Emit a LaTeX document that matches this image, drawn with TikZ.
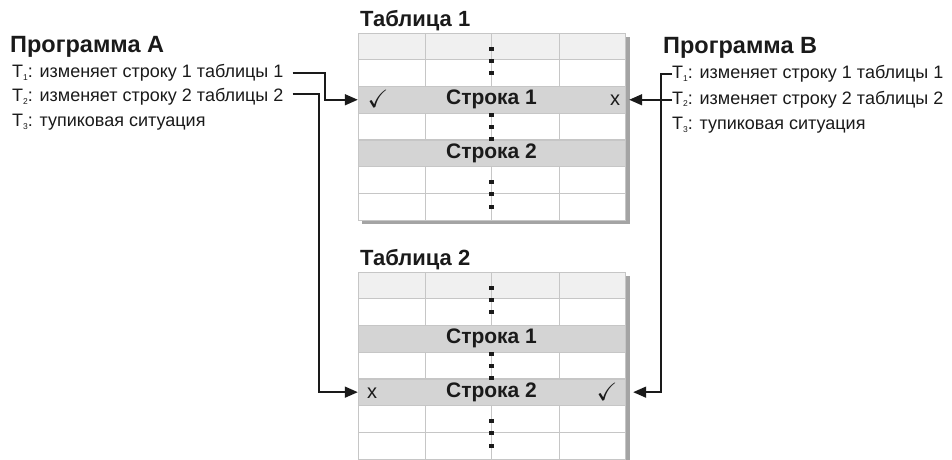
\documentclass[tikz,border=0pt]{standalone}
\usepackage{fontspec}
\setmainfont{Liberation Sans}
\usepackage{amssymb}
\usetikzlibrary{positioning,arrows.meta,calc}
\definecolor{gridgray}{HTML}{C6C6C6}
\definecolor{rowgray}{HTML}{D4D4D4}
\definecolor{headgray}{HTML}{F0F0F0}
\definecolor{shadowgray}{HTML}{A4A4A4}
\definecolor{ink}{HTML}{1A1A1A}
\newcommand{\tsub}[1]{\raisebox{-2.5pt}{\fontsize{8.5}{9}\selectfont #1}}

\begin{document}
\begin{tikzpicture}[x=1pt,y=-1pt,>={Triangle[length=13pt,width=11pt]},
        title/.style = {anchor=base west, inner sep=0pt, text=ink, font=\fontsize{23.5}{26}\bfseries},
        tabtitle/.style = {anchor=base west, inner sep=0pt, text=ink, font=\fontsize{22}{24}\bfseries},
        task/.style = {anchor=west, inner sep=0pt, text=ink, text height=13pt, text depth=4pt,
                font=\fontsize{18}{20}\selectfont},
        strip/.style = {draw=gridgray, fill=rowgray, minimum width=267pt, minimum height=26.7pt,
                inner sep=0pt, text=ink, font=\fontsize{21}{22}\bfseries},
        tick/.style = {inner sep=0pt, text=ink, font=\fontsize{20}{22}\selectfont},
        gridline/.style = {draw=gridgray, line width=0.8pt},
        link/.style = {draw=ink, line width=1.6pt, ->},
    ]
    \useasboundingbox (0,0) rectangle (952,459);

    \foreach \tab/\ty in {1/33,2/272}{
        \fill[shadowgray] (362,\ty+4) rectangle (629.5,\ty+191);
        \fill[white] (358,\ty) rectangle (625,\ty+187);
        \fill[headgray] (358,\ty) rectangle (625,\ty+26.7);
        \foreach \cx in {425,491.5,559}
            \draw[gridline] (\cx,\ty) -- (\cx,\ty+187);
        \foreach \k in {1,...,6}
            \draw[gridline] (358,\ty+\k*26.7) -- (625,\ty+\k*26.7);
        \draw[gridline] (358,\ty) rectangle (625,\ty+187);
        \node[strip] (t\tab s1) at (491.5,\ty+66.75) {Строка 1};
        \node[strip] (t\tab s2) at (491.5,\ty+120.15) {Строка 2};
        \foreach \d in {16,28,40,82,94,106,149,161,174}
            \fill[ink] (489.2,\ty+\d-2.3) rectangle ++(4.6,4.6);
        \node[tabtitle] (tab\tab) at (360,\ty-7) {Таблица \tab};
    }

    \node[tick, font=\fontsize{25}{26}\selectfont] (chk1) at (378,99) {$\checkmark$};
    \node[tick] (x1) at (615,100) {x};
    \node[tick] (x2) at (372,393) {x};
    \node[tick, font=\fontsize{25}{26}\selectfont] (chk2) at (607,391.5) {$\checkmark$};

    \node[title] (progA) at (10,52) {Программа A};
    \node[task] (a1) at (12,73) {T\tsub{1}: изменяет строку 1 таблицы 1};
    \node[task] (a2) at (12,97) {T\tsub{2}: изменяет строку 2 таблицы 2};
    \node[task] (a3) at (12,122) {T\tsub{3}: тупиковая ситуация};

    \node[title] (progB) at (663,53) {Программа B};
    \node[task] (b1) at (672,74) {T\tsub{1}: изменяет строку 1 таблицы 1};
    \node[task] (b2) at (672,99.75) {T\tsub{2}: изменяет строку 2 таблицы 2};
    \node[task] (b3) at (672,125) {T\tsub{3}: тупиковая ситуация};

    \coordinate (kA1) at (325,0);
    \coordinate (kA2) at (319,0);
    \coordinate (kB) at (661,0);

    \draw[link, shorten <=9pt] (a1.east) -- (a1.east -| kA1) |- (t1s1.west);
    \draw[link, shorten <=9pt] ([yshift=3pt]a2.east) -- ([yshift=3pt]a2.east -| kA2) |- (t2s2.west);
    \draw[link] (b1.west) -- (b1.west -| kB) |- ([xshift=8pt]t2s2.east);
    \draw[link] (b2.west) -- ([xshift=4pt]t1s1.east);
\end{tikzpicture}
\end{document}
